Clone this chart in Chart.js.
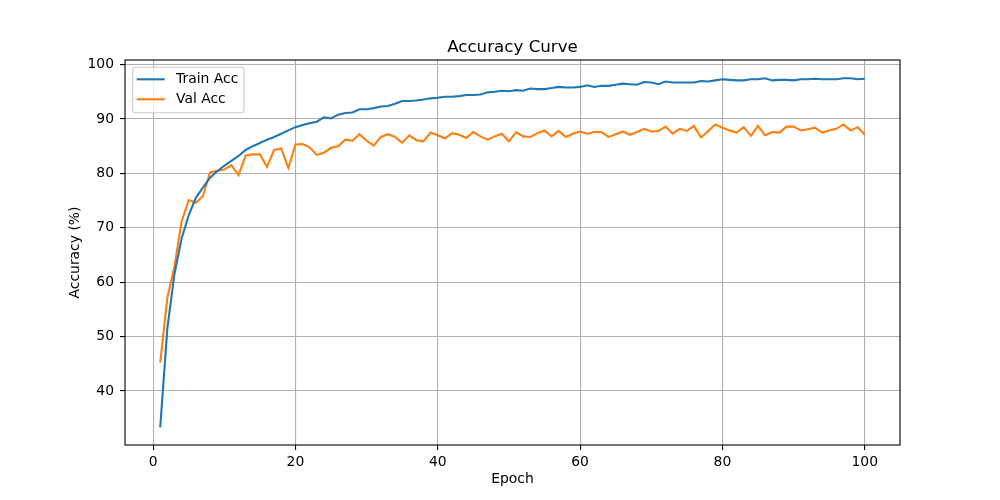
<!DOCTYPE html>
<html>
<head>
<meta charset="utf-8">
<title>Accuracy Curve</title>
<script src="https://cdn.jsdelivr.net/npm/chart.js@4.4.0/dist/chart.umd.min.js"></script>
<style>
  html, body { margin: 0; padding: 0; background: #fff; }
  canvas { display: block; }
</style>
</head>
<body>
<canvas id="myChart" width="1000" height="500"></canvas>
<script>
// Datos (precision por epoca)
const trainAcc = [
  33.3, 51.5, 61.5, 68.0, 72.3, 75.5, 77.4, 79.2, 80.4, 81.4,
  82.3, 83.2, 84.3, 85.0, 85.6, 86.2, 86.7, 87.3, 87.9, 88.5,
  88.9, 89.2, 89.5, 90.3, 90.1, 90.8, 91.1, 91.2, 91.8, 91.8,
  92.0, 92.3, 92.4, 92.8, 93.3, 93.3, 93.4, 93.6, 93.8, 93.9,
  94.1, 94.1, 94.2, 94.4, 94.4, 94.5, 94.9, 95.0, 95.2, 95.1,
  95.3, 95.2, 95.6, 95.5, 95.5, 95.7, 95.9, 95.8, 95.8, 95.9,
  96.2, 95.9, 96.1, 96.1, 96.3, 96.5, 96.4, 96.3, 96.8, 96.7,
  96.4, 96.9, 96.7, 96.7, 96.7, 96.7, 97.0, 96.9, 97.1, 97.3,
  97.2, 97.1, 97.1, 97.3, 97.3, 97.5, 97.1, 97.2, 97.2, 97.1,
  97.3, 97.3, 97.4, 97.3, 97.3, 97.3, 97.5, 97.5, 97.3, 97.4
];
const valAcc = [
  45.2, 57.1, 62.9, 71.1, 75.1, 74.6, 75.8, 80.2, 80.5, 80.7,
  81.5, 79.7, 83.3, 83.5, 83.5, 81.2, 84.3, 84.6, 81.0, 85.3,
  85.4, 84.8, 83.4, 83.8, 84.7, 85.0, 86.2, 86.0, 87.2, 86.0,
  85.1, 86.7, 87.2, 86.7, 85.6, 87.0, 86.1, 85.9, 87.5, 87.0,
  86.4, 87.4, 87.1, 86.5, 87.6, 86.8, 86.2, 86.8, 87.3, 85.9,
  87.6, 86.8, 86.7, 87.4, 87.9, 86.8, 87.8, 86.7, 87.3, 87.7,
  87.3, 87.6, 87.6, 86.7, 87.2, 87.7, 87.1, 87.6, 88.2, 87.7,
  87.8, 88.6, 87.3, 88.2, 87.8, 88.7, 86.6, 87.8, 89.0, 88.4,
  87.9, 87.5, 88.5, 86.9, 88.7, 87.0, 87.6, 87.5, 88.6, 88.6,
  87.9, 88.1, 88.4, 87.5, 87.9, 88.2, 89.0, 87.9, 88.5, 87.1
];
const epochs = trainAcc.map((_, i) => i + 1);
const seriesNames = ['Train Acc', 'Val Acc'];
const seriesColors = ['#1f77b4', '#ff7f0e'];
const xTicks = [0, 20, 40, 60, 80, 100];
const yTicks = [40, 50, 60, 70, 80, 90, 100];

const FONT = '"DejaVu Sans", "Liberation Sans", sans-serif';
const TICK_PX = 13.9;

// Textos, borde y leyenda al estilo matplotlib
const decorPlugin = {
  id: 'decor',
  afterDatasetsDraw(chart) {
    const ctx = chart.ctx;
    const a = chart.chartArea;
    ctx.save();
    // borde de los ejes
    ctx.strokeStyle = '#000';
    ctx.lineWidth = 1.1;
    ctx.strokeRect(a.left, a.top, a.right - a.left, a.bottom - a.top);

    // titulo
    ctx.fillStyle = '#000';
    ctx.textAlign = 'center';
    ctx.textBaseline = 'alphabetic';
    ctx.font = '16.7px ' + FONT;
    ctx.fillText('Accuracy Curve', (a.left + a.right) / 2, a.top - 8.5);

    // etiquetas de ejes
    ctx.font = TICK_PX + 'px ' + FONT;
    ctx.textBaseline = 'middle';
    ctx.fillText('Epoch', (a.left + a.right) / 2, 479);
    ctx.save();
    ctx.translate(75, (a.top + a.bottom) / 2);
    ctx.rotate(-Math.PI / 2);
    ctx.fillText('Accuracy (%)', 0, 0);
    ctx.restore();

    // leyenda
    const lx = a.left + 7.7, ly = a.top + 7.3, lw = 111.3, lh = 45.4;
    ctx.beginPath();
    ctx.roundRect(lx, ly, lw, lh, 3);
    ctx.fillStyle = 'rgba(255,255,255,0.8)';
    ctx.fill();
    ctx.strokeStyle = '#cccccc';
    ctx.lineWidth = 1.1;
    ctx.stroke();
    seriesNames.forEach((name, i) => {
      const yy = ly + 12 + i * 20;
      ctx.beginPath();
      ctx.moveTo(lx + 4, yy);
      ctx.lineTo(lx + 32, yy);
      ctx.strokeStyle = seriesColors[i];
      ctx.lineWidth = 2.1;
      ctx.stroke();
      ctx.fillStyle = '#000';
      ctx.textAlign = 'left';
      ctx.textBaseline = 'middle';
      ctx.fillText(name, lx + 43.3, yy);
    });
    ctx.restore();
  }
};

function fixWidth(w) {
  return function(scale) {
    scale.width = w;
    scale.paddingTop = 0; scale.paddingBottom = 0;
    scale.paddingLeft = 0; scale.paddingRight = 0;
  };
}
function fixHeight(h) {
  return function(scale) {
    scale.height = h;
    scale.paddingTop = 0; scale.paddingBottom = 0;
    scale.paddingLeft = 0; scale.paddingRight = 0;
  };
}

const ctx = document.getElementById('myChart').getContext('2d');
const chart = new Chart(ctx, {
  type: 'line',
  data: {
    datasets: [trainAcc, valAcc].map((vals, i) => ({
      label: seriesNames[i],
      data: vals.map((v, j) => ({ x: epochs[j], y: v })),
      borderColor: seriesColors[i],
      backgroundColor: seriesColors[i],
      borderWidth: 2.1,
      pointRadius: 0,
      tension: 0,
      fill: false
    }))
  },
  options: {
    responsive: false,
    animation: false,
    devicePixelRatio: 1,
    layout: { autoPadding: false, padding: { left: 0, right: 100, top: 60, bottom: 0 } },
    plugins: { legend: { display: false }, title: { display: false }, tooltip: { enabled: false } },
    scales: {
      x: {
        type: 'linear',
        min: -3.95,
        max: 104.95,
        afterFit: fixHeight(55),
        afterBuildTicks(scale) { scale.ticks = xTicks.map(v => ({ value: v })); },
        ticks: { color: '#000', font: { family: FONT, size: TICK_PX }, padding: 4, maxRotation: 0, autoSkip: false },
        grid: { color: '#b0b0b0', lineWidth: 1.1, tickColor: '#000', tickLength: 5, drawTicks: true },
        border: { display: false }
      },
      y: {
        type: 'linear',
        min: 30.05,
        max: 100.85,
        afterFit: fixWidth(125),
        afterBuildTicks(scale) { scale.ticks = yTicks.map(v => ({ value: v })); },
        ticks: { color: '#000', font: { family: FONT, size: TICK_PX }, padding: 6, autoSkip: false },
        grid: { color: '#b0b0b0', lineWidth: 1.1, tickColor: '#000', tickLength: 5, drawTicks: true },
        border: { display: false }
      }
    }
  },
  plugins: [decorPlugin]
});
</script>
</body>
</html>
